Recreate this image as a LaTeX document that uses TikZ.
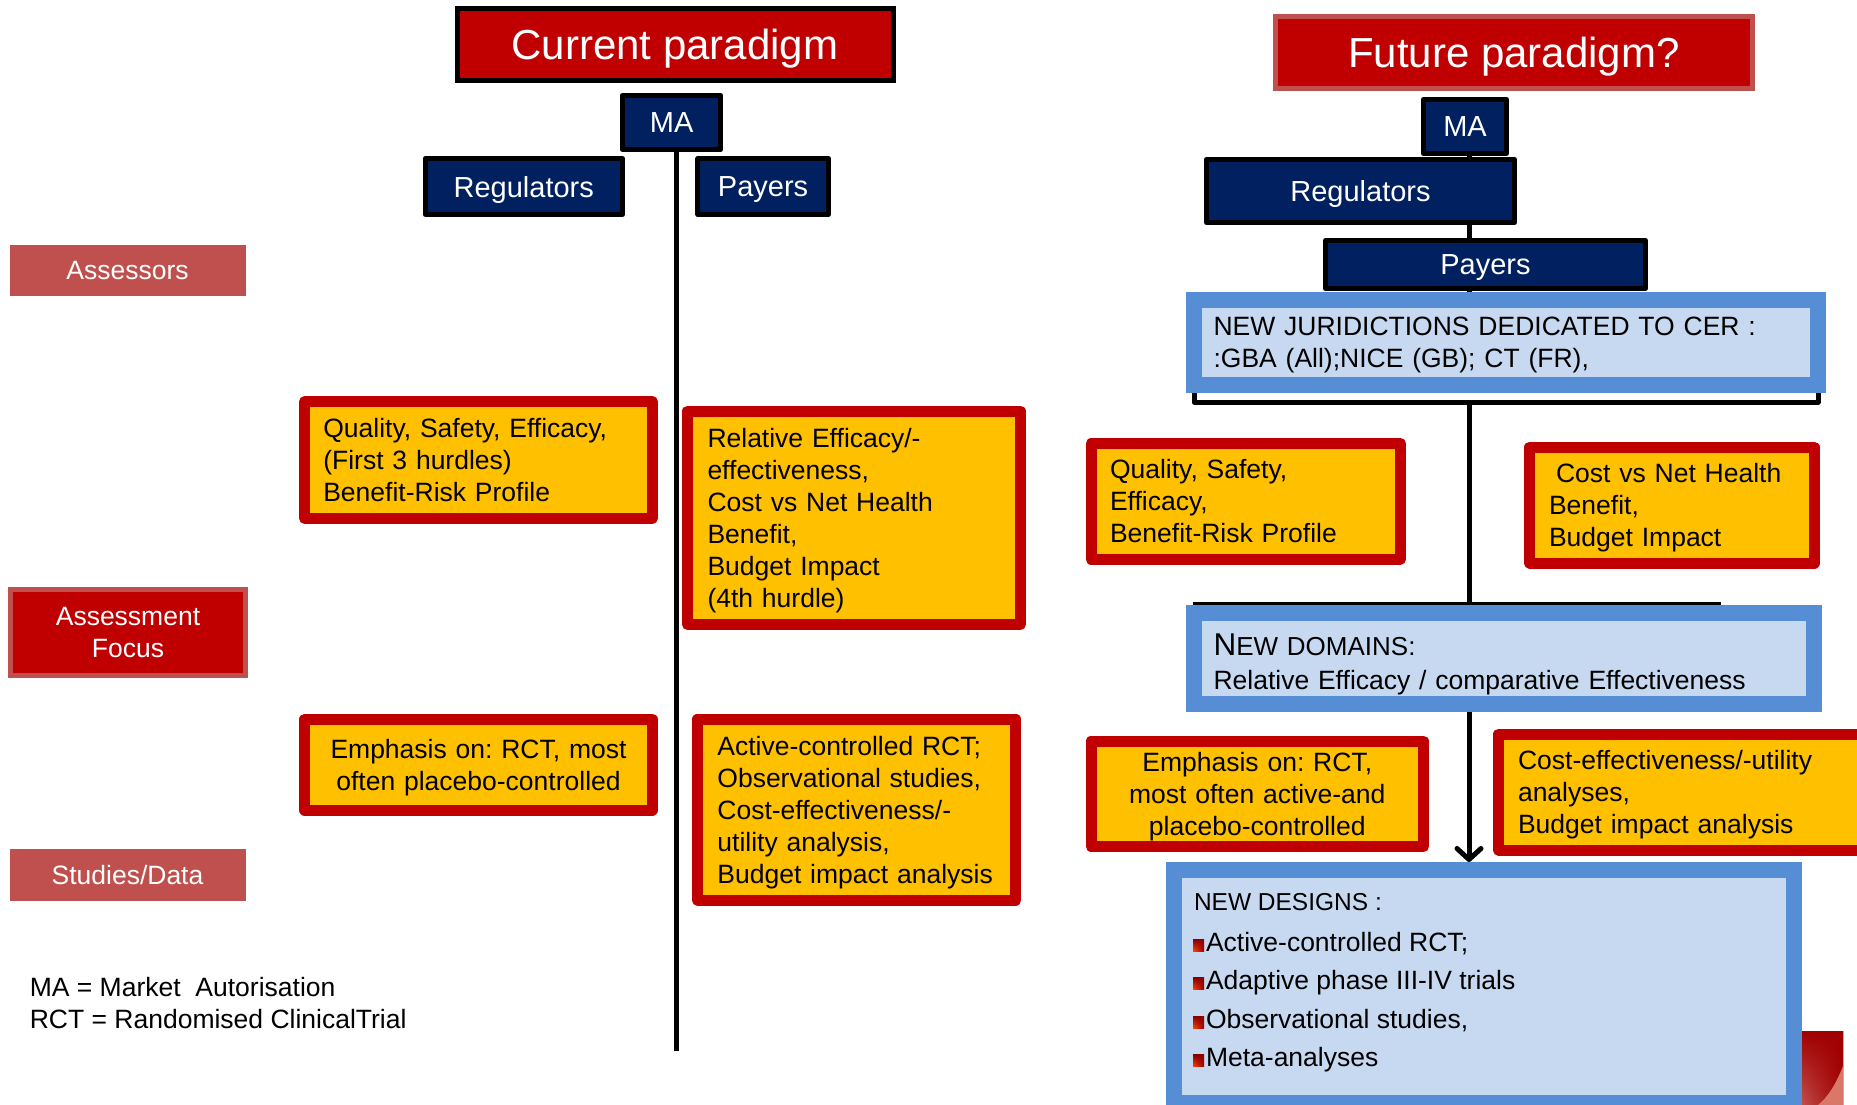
\documentclass[tikz,border=0pt]{standalone}
\usepackage{fontspec}
\setmainfont{Liberation Sans}
\usetikzlibrary{arrows.meta,backgrounds,shadings}
\frenchspacing

\definecolor{cred}{HTML}{C00000}
\definecolor{clab}{HTML}{C0504D}
\definecolor{navy}{HTML}{002060}
\definecolor{cyel}{HTML}{FFC000}
\definecolor{cblue}{HTML}{558ED5}
\definecolor{clblue}{HTML}{C6D9F1}
\definecolor{cdark}{HTML}{A00000}
\definecolor{ccurl}{HTML}{D9776B}

\newcommand\bodyfont{\fontsize{26.5}{32}\selectfont}
\newcommand\navfont{\fontsize{29}{34}\selectfont}
\newcommand\titlefont{\fontsize{42}{50}\selectfont}

\tikzset{
  every node/.style={font=\bodyfont, outer sep=0pt},
  conn/.style={line width=5pt, draw=black},
  titlebox/.style={draw=black, line width=5pt, fill=cred, text=white, font=\titlefont, inner sep=0pt, text depth=0pt},
  navbox/.style={draw=black, line width=5pt, fill=navy, text=white, font=\navfont, line join=round, inner sep=0pt, text depth=0pt},
  tag/.style={fill=clab, text=white, inner sep=0pt},
  ybox/.style={draw=cred, line width=11pt, fill=cyel, line join=round, inner ysep=0pt, align=left},
  bbox/.style={draw=cblue, line width=16pt, fill=clblue, inner ysep=0pt, align=left},
  plain/.style={anchor=base west, inner sep=0pt},
  bulletsq/.style={upper left=cdark!80!black, upper right=cdark!90!black, lower left=orange!55!red, lower right=cdark}
}

\begin{document}
\begin{tikzpicture}[x=1pt, y=-1pt]
\useasboundingbox (0,0) rectangle (1857,1105);
\clip (0,0) rectangle (1857,1105);

% ---------- left: current paradigm ----------
\node[titlebox, minimum width=436pt, minimum height=72pt] (cur) at (675,44.5) {Current paradigm};
\node[navbox, minimum width=98.5pt, minimum height=54pt] (ma1) at (671.6,122.5) {MA};
\node[navbox, minimum width=197pt, minimum height=56pt] (reg1) at (523.8,186.5) {Regulators};
\node[navbox, minimum width=130.3pt, minimum height=56pt] (pay1) at (763.1,186.5) {Payers};

% row labels
\node[tag, minimum width=236pt, minimum height=51.5pt] (ass) at (127.5,270.5) {Assessors};
\node[tag, fill=cred, draw=clab, line width=5pt, align=center, minimum width=235pt, minimum height=86pt] (foc) at (128,632.5) {Assessment\\Focus};
\node[tag, minimum width=236pt, minimum height=52pt] (stu) at (127.5,875) {Studies/Data};

\node[ybox, minimum width=347.2pt, minimum height=117pt, inner xsep=18.4pt, text width=310.4pt] (qs1) at (478.5,460)
  {Quality, Safety, Efficacy,\\(First 3 hurdles)\\Benefit-Risk Profile};
\node[ybox, minimum width=332.8pt, minimum height=213.5pt, inner xsep=20pt, text width=292.8pt] (re1) at (853.9,517.75)
  {Relative Efficacy/-\\effectiveness,\\Cost vs Net Health\\Benefit,\\Budget Impact\\\smash{(4th hurdle)}};
\node[ybox, align=center, minimum width=347.2pt, minimum height=91pt, inner xsep=10pt, text width=327.2pt] (em1) at (478.5,764.5)
  {Emphasis on: RCT, most\\\smash{often placebo-controlled}};
\node[ybox, minimum width=318.4pt, minimum height=181pt, inner xsep=20pt, text width=278.4pt] (ac1) at (856.6,809.5)
  {Active-controlled RCT;\\Observational studies,\\Cost-effectiveness/-\\utility analysis,\\\smash{Budget impact analysis}};

\node[plain] (leg1) at (29.8,996.5) {MA = Market\ \ Autorisation};
\node[plain] (leg2) at (29.8,1028.5) {RCT = Randomised ClinicalTrial};

% ---------- right: future paradigm ----------
\node[titlebox, draw=clab, minimum width=477pt, minimum height=72pt] (fut) at (1514,52.5) {Future paradigm?};
\node[navbox, minimum width=83pt, minimum height=54pt] (ma2) at (1465,126.5) {MA};
\node[navbox, minimum width=308pt, minimum height=63pt] (reg2) at (1360.5,191) {Regulators};
\node[navbox, minimum width=320pt, minimum height=48pt] (pay2) at (1485.5,264.5) {Payers};

\node[bbox, minimum width=624pt, minimum height=84.5pt, inner xsep=19.5pt, text width=585pt] (jur) at (1506,342.25)
  {NEW JURIDICTIONS DEDICATED TO CER :\\\smash{:GBA (All);NICE (GB); CT (FR),}};
\node[ybox, minimum width=309.5pt, minimum height=115.5pt, inner xsep=19pt, text width=271.5pt] (qs2) at (1245.75,501.25)
  {Quality, Safety,\\Efficacy,\\Benefit-Risk Profile};
\node[ybox, minimum width=284.5pt, minimum height=116pt, inner xsep=19.5pt, text width=245.5pt] (cv2) at (1671.75,505)
  {\hspace*{7pt}Cost vs Net Health\\Benefit,\\\smash{Budget Impact}};
\node[bbox, minimum width=620pt, minimum height=91pt, inner xsep=19.5pt, text width=581pt] (dom) at (1504,658.5)
  {\rule{0pt}{28pt}{\fontsize{31.5}{32}\selectfont N}{\fontsize{26}{32}\selectfont EW DOMAINS:}\\[2pt]\smash{Relative Efficacy / comparative Effectiveness}};
\node[ybox, align=center, minimum width=332.5pt, minimum height=105.5pt, inner xsep=10pt, text width=312.5pt] (em2) at (1257.25,793.75)
  {Emphasis on: RCT,\\most often active-and\\\smash{placebo-controlled}};
\node[ybox, minimum width=381.5pt, minimum height=116pt, inner xsep=19.5pt, text width=342.5pt] (ce2) at (1689.25,792)
  {Cost-effectiveness/-utility\\analyses,\\\smash{Budget impact analysis}};
\node[bbox, minimum width=620pt, minimum height=233pt] (des) at (1484,986.5) {};

% design list
\node[plain, font=\fontsize{24.5}{30}\selectfont] (dsh) at (1194,910) {NEW DESIGNS :};
\node[plain] (ds1) at (1206,951) {Active-controlled RCT;};
\node[plain] (ds2) at (1206,989.5) {Adaptive phase III-IV trials};
\node[plain] (ds3) at (1206,1028) {Observational studies,};
\node[plain] (ds4) at (1206,1066.5) {Meta-analyses};
\foreach \b in {ds1,ds2,ds3,ds4}
  \shade[bulletsq] ([xshift=-13pt]\b.base west) rectangle ++(11,-12);

% page-curl corner
\shade[upper left=cdark, upper right=cdark, lower left=clab, lower right=cdark] (1802,1031) rectangle (1843,1105);
\fill[ccurl] (1843,1066) .. controls (1836,1084) and (1828,1097) .. (1818,1105) -- (1843,1105) -- cycle;
\draw[gray!60, line width=1pt] (1843.5,1031) -- (1843.5,1105);

% ---------- connectors (behind the boxes) ----------
\coordinate (lx) at (676.5,0);
\coordinate (lend) at (676.5,1051);
\coordinate (spine) at (1469,0);
\coordinate (brk) at (1469,402);
\coordinate (barL) at (1193,604);
\coordinate (barR) at (1721,604);
\begin{pgfonlayer}{background}
  \fill[white] (0,0) rectangle (1857,1105);
  \draw[conn] (ma1.south -| lx) -- (lend);
  \draw[conn] (ma2.south -| spine) -- (jur.north -| spine);
  \draw[conn, line join=round] (jur.south west) |- (brk) -| (jur.south east);
  \draw[conn] (brk) -- (brk |- barL);
  \draw[conn] (barL) -- (barR);
  \draw[conn, -{Straight Barb[length=11pt,width=24pt,round]}, shorten >=8pt] (dom.south -| spine) -- (des.north -| spine);
\end{pgfonlayer}
\end{tikzpicture}
\end{document}
